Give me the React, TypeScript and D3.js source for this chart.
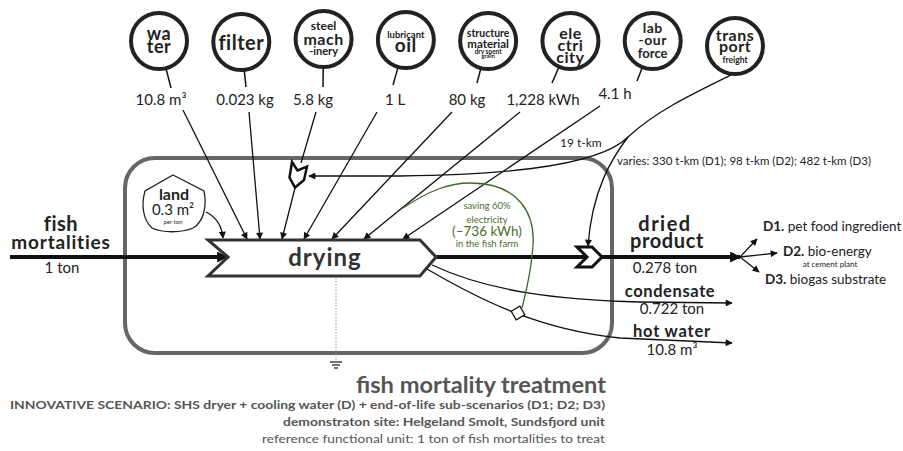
import React from "react";
import * as d3 from "d3";

// ---------- data ----------
const inputNames = ["water", "filter", "steel machinery", "lubricant oil", "structure material", "electricity", "labour force", "transport"];
const inputAmounts = ["10.8 m³", "0.023 kg", "5.8 kg", "1 L", "80 kg", "1,228 kWh", "4.1 h"];
const circleLabels: [string, number, number][][] = [
  [["wa", 18, -1], ["ter", 18, 12]],
  [["filter", 20, 8]],
  [["steel", 12, -9], ["mach", 16, 6], ["-inery", 11, 16]],
  [["lubricant", 9.5, -2], ["oil", 19, 12]],
  [["structure", 10.5, -4], ["material", 11.5, 7], ["dry spent", 6.5, 12.5], ["grain", 6, 17]],
  [["ele", 16, -2], ["ctri", 16, 10], ["city", 16, 22]],
  [["lab", 14, -8], ["-our", 14, 4], ["force", 13, 17]],
  [["trans", 16, -5], ["port", 16, 6], ["freight", 8.5, 17]],
];
const transportAmounts = ["19 t-km", "varies: 330 t-km (D1); 98 t-km (D2); 482 t-km (D3)"];
const landLabel = ["land", "0.3 m²", "per ton"];
const inputFlow = ["fish", "mortalities", "1 ton"];
const processName = "drying";
const outputNames = [["dried", "product"], ["condensate"], ["hot water"]];
const outputAmounts = ["0.278 ton", "0.722 ton", "10.8 m³"];
const endOfLifeCodes = ["D1.", "D2.", "D3."];
const endOfLifeNames = ["pet food ingredient", "bio-energy", "biogas substrate"];
const endOfLifeNotes = ["", "at cement plant", ""];
const savingText = ["saving 60%", "electricity", "(–736 kWh)", "in the fish farm"];
const titleLines = [
  "fish mortality treatment",
  "INNOVATIVE SCENARIO: SHS dryer + cooling water (D) + end-of-life  sub-scenarios  (D1; D2; D3)",
  "demonstraton  site: Helgeland  Smolt, Sundsfjord  unit",
  "reference  functional  unit:  1 ton  of fish mortalities  to treat",
];

// ---------- layout ----------
const W = 903, H = 451;
const FONT = "Lato, 'Open Sans', sans-serif";
const xIn = d3.scalePoint<string>().domain(inputNames).range([159, 735]);
const circleY = [41, 42, 39, 40, 41, 41, 41, 46];
const R = 28;
const labelX = [161, 245, 313, 395, 467, 543, 615];
const labelY = [105, 105, 105, 105, 105, 105, 99];
const leaderEnd = [[171, 88], [246, 87], [323, 87], [393, 85], [477, 83], [552, 83], [637, 81]];
const flowStart = [[183, 110], [249, 112], [316, 112], [377, 112], [452, 112], [520, 112], [600, 106]];
const flowEndX = [247, 260, 282, 304, 332, 364, 403];
const boxTop = 240, boxMid = 257, boxBot = 276;

const line = d3.line();

export default function App() {
  const drying = line([[208, boxTop], [420, boxTop], [436, boxMid], [420, boxBot], [208, boxBot], [228, boxMid]])! + "Z";
  const chevron = line([[577, 247], [592, 247], [602, 257], [592, 267], [577, 267], [587, 257]])! + "Z";
  const steelIcon = line([[292, 162], [297.5, 170.5], [307, 166.5], [304, 180], [295, 187.5], [289.5, 177.5]])! + "Z";
  const land = "M173,175 L204,191 C207,205 204,222 193,228 C182,233 162,233 152,228 C143,220 141,205 145,191 Z";
  const ground = [0, 3, 6];

  return (
    <svg width={W} height={H} style={{ position: "absolute", left: 0, top: 0, background: "#fff" }} fontFamily={FONT}>
      <defs>
        <marker id="a" viewBox="0 0 10 10" refX="9" refY="5" markerWidth="8" markerHeight="7" markerUnits="userSpaceOnUse" orient="auto">
          <path d="M0,0 L10,5 L0,10 Z" fill="#111" />
        </marker>
        <marker id="ab" viewBox="0 0 10 10" refX="9" refY="5" markerWidth="12" markerHeight="11" markerUnits="userSpaceOnUse" orient="auto">
          <path d="M0,0 L10,5 L0,10 Z" fill="#111" />
        </marker>
      </defs>

      {/* big treatment box */}
      <rect x={125} y={158} width={487} height={195} rx={30} fill="none" stroke="#666" strokeWidth={4} />

      {/* input circles */}
      {inputNames.map((n, i) => {
        const cx = xIn(n)!;
        const cy = circleY[i];
        return (
          <g key={n}>
            <circle cx={cx} cy={cy} r={R} fill="#fff" stroke="#222" strokeWidth={4} />
            {circleLabels[i].map(([t, fs, dy], j) => (
              <text key={j} x={cx} y={cy + dy} textAnchor="middle" fontSize={fs} fontWeight={700} fill="#222" letterSpacing={fs > 13 ? 0.5 : 0}>{t}</text>
            ))}
          </g>
        );
      })}

      {/* leaders & amounts */}
      {inputAmounts.map((a, i) => {
        const cx = xIn(inputNames[i])!;
        const cy = circleY[i];
        const ang = Math.atan2(leaderEnd[i][1] - cy, leaderEnd[i][0] - cx);
        return (
          <g key={a}>
            <path d={line([[cx + (R + 1) * Math.cos(ang), cy + (R + 1) * Math.sin(ang)], leaderEnd[i] as [number, number]])!} stroke="#111" strokeWidth={1.5} />
            <text x={labelX[i]} y={labelY[i]} textAnchor="middle" fontSize={15} fill="#222">{a}</text>
            <path d={i === 2
              ? line([flowStart[i] as [number, number], [301, 163]])!
              : line([flowStart[i] as [number, number], [flowEndX[i], boxTop - 1]])!}
              stroke="#111" strokeWidth={1.3} fill="none" markerEnd={i === 2 ? undefined : "url(#a)"} />
          </g>
        );
      })}
      {/* steel machinery icon then arrow to drying */}
      <path d={line([[295, 188], [flowEndX[2], boxTop - 1]])!} stroke="#111" strokeWidth={1.3} markerEnd="url(#a)" />
      <path d={steelIcon} fill="#fff" stroke="#111" strokeWidth={2.5} strokeLinejoin="miter" />

      {/* transport curves */}
      <path d="M731,75 C690,95 655,112 628,137 C595,170 480,175 400,176 L309,176" fill="none" stroke="#111" strokeWidth={1.3} markerEnd="url(#a)" />
      <path d="M628,137 C612,158 592,190 588,246" fill="none" stroke="#111" strokeWidth={1.3} markerEnd="url(#a)" />
      <text x={560} y={147} fontSize={12} fill="#222">{transportAmounts[0]}</text>
      <text x={617} y={165} fontSize={11.5} fill="#222">{transportAmounts[1]}</text>

      {/* land */}
      <path d={land} fill="#fff" stroke="#222" strokeWidth={1.3} />
      <text x={174} y={200} textAnchor="middle" fontSize={16} fontWeight={700} fill="#222">{landLabel[0]}</text>
      <text x={173} y={215} textAnchor="middle" fontSize={15} fill="#222">{landLabel[1]}</text>
      <text x={173} y={224} textAnchor="middle" fontSize={6} fill="#222">{landLabel[2]}</text>
      <path d="M206,212 C218,218 222,227 223,238" fill="none" stroke="#111" strokeWidth={1.3} markerEnd="url(#a)" />

      {/* fish mortalities input */}
      <path d={line([[10, boxMid], [227, boxMid]])!} stroke="#111" strokeWidth={4} markerEnd="url(#ab)" />
      <text x={61} y={231} textAnchor="middle" fontSize={20} fontWeight={700} fill="#222" letterSpacing={0.5}>{inputFlow[0]}</text>
      <text x={61} y={249} textAnchor="middle" fontSize={19} fontWeight={700} fill="#222" letterSpacing={0.8}>{inputFlow[1]}</text>
      <text x={62} y={273} textAnchor="middle" fontSize={15} fill="#222">{inputFlow[2]}</text>

      {/* outputs */}
      <path d={line([[436, boxMid], [740, boxMid]])!} stroke="#111" strokeWidth={4} markerEnd="url(#ab)" />
      <path d="M432,265 C490,292 560,300 640,302 L732,303" fill="none" stroke="#111" strokeWidth={1.3} markerEnd="url(#a)" />
      <path d="M427,269 C480,300 540,330 620,338 L732,343" fill="none" stroke="#111" strokeWidth={1.3} markerEnd="url(#a)" />
      <path d={chevron} fill="#fff" stroke="#111" strokeWidth={3} />

      {/* drying process */}
      <path d={drying} fill="#fff" stroke="#333" strokeWidth={3} />
      <text x={325} y={266} textAnchor="middle" fontSize={24} fontWeight={700} fill="#333" letterSpacing={1}>{processName}</text>

      {/* green saving loop */}
      <path d="M403,208 C430,190 450,183 470,183 C520,183 535,215 533,245 C531,275 525,295 522,308" fill="none" stroke="#3f6b22" strokeWidth={1.3} />
      <rect x={513} y={308} width={10} height={10} fill="#fff" stroke="#111" strokeWidth={1.3} transform="rotate(-30 518 313)" />
      {savingText.map((t, i) => (
        <text key={t} x={487} y={[209, 223, 236, 247][i]} textAnchor="middle" fontSize={i === 2 ? 13.5 : 9.5} fill="#4a6e2c">{t}</text>
      ))}

      {/* output labels */}
      <text x={665} y={231} textAnchor="middle" fontSize={20} fontWeight={700} fill="#222" letterSpacing={1.5}>{outputNames[0][0]}</text>
      <text x={667} y={248} textAnchor="middle" fontSize={20} fontWeight={700} fill="#222" letterSpacing={0.6}>{outputNames[0][1]}</text>
      <text x={665} y={273} textAnchor="middle" fontSize={15} fill="#222">{outputAmounts[0]}</text>
      <text x={670} y={297} textAnchor="middle" fontSize={16.5} fontWeight={700} fill="#222" letterSpacing={0.6}>{outputNames[1][0]}</text>
      <text x={672} y={314} textAnchor="middle" fontSize={15} fill="#222">{outputAmounts[1]}</text>
      <text x={672} y={337} textAnchor="middle" fontSize={16.5} fontWeight={700} fill="#222" letterSpacing={0.8}>{outputNames[2][0]}</text>
      <text x={672} y={355} textAnchor="middle" fontSize={15} fill="#222">{outputAmounts[2]}</text>

      {/* end-of-life branches */}
      {[[757, 239], [777, 253], [759, 272]].map((p, i) => (
        <path key={i} d={line([[740, boxMid], p as [number, number]])!} stroke="#111" strokeWidth={1.3} markerEnd="url(#a)" />
      ))}
      {endOfLifeCodes.map((c, i) => (
        <text key={c} x={[763, 783, 765][i]} y={[231, 256, 284][i]} fontSize={13.5} fill="#222">
          <tspan fontWeight={700}>{c}</tspan> {endOfLifeNames[i]}
        </text>
      ))}
      <text x={830} y={267} textAnchor="middle" fontSize={8} fill="#222">{endOfLifeNotes[1]}</text>

      {/* emissions to ground */}
      <path d={line([[336, boxBot + 2], [336, 360]])!} stroke="#999" strokeWidth={1} strokeDasharray="1.5,1.5" />
      {ground.map((g, i) => (
        <path key={i} d={line([[336 - 6 + i * 2, 362 + g], [336 + 6 - i * 2, 362 + g]])!} stroke="#111" strokeWidth={1.2} />
      ))}

      {/* titles */}
      <text x={606} y={393} textAnchor="end" fontSize={23} fontWeight={700} fill="#555" textLength={250} lengthAdjust="spacingAndGlyphs">{titleLines[0]}</text>
      <text x={605} y={409} textAnchor="end" fontSize={11.5} fontWeight={700} fill="#555" textLength={595} lengthAdjust="spacingAndGlyphs">{titleLines[1]}</text>
      <text x={605} y={426} textAnchor="end" fontSize={11.5} fontWeight={700} fill="#555" textLength={322} lengthAdjust="spacingAndGlyphs">{titleLines[2]}</text>
      <text x={605} y={443} textAnchor="end" fontSize={11.5} fill="#555" textLength={343} lengthAdjust="spacingAndGlyphs">{titleLines[3]}</text>
    </svg>
  );
}
